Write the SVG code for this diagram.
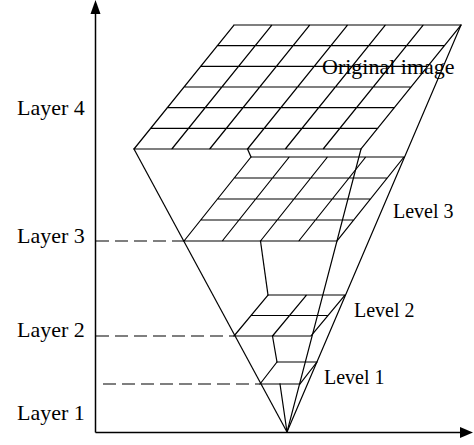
<svg xmlns="http://www.w3.org/2000/svg" width="474" height="445" viewBox="0 0 474 445">
<style>
  .ln { stroke: #000; stroke-width: 1.2; fill: none; stroke-linecap: square; }
  .dash { stroke: #000; stroke-width: 1.2; fill: none; stroke-dasharray: 13 6; }
  .ax { stroke: #000; stroke-width: 1.5; fill: none; }
  .lbl { font-family: "Liberation Serif", "Times New Roman", serif; font-size: 20px; fill: #000; }
  .big { font-size: 22px; }
</style>
<rect width="474" height="445" fill="#fff"/>

<g id="axes">
  <line class="ax" x1="95.5" y1="432.5" x2="95.5" y2="12"/>
  <polygon points="95.5,0 90.5,14 100.5,14" fill="#000"/>
  <line class="ax" x1="95.5" y1="432.5" x2="461" y2="432.5"/>
  <polygon points="473,432.5 460,427 460,438" fill="#000"/>
</g>

<g id="connectors">
  <line class="ln" x1="134" y1="149" x2="287" y2="432"/>
  <line class="ln" x1="461" y1="25" x2="287" y2="432"/>
  <line class="ln" x1="361" y1="149" x2="287" y2="432"/>
  <line class="ln" x1="247.5" y1="149" x2="251" y2="157"/>
  <line class="ln" x1="260.5" y1="241" x2="268" y2="295"/>
  <line class="ln" x1="272.5" y1="336" x2="277" y2="362"/>
  <line class="ln" x1="280" y1="384" x2="287" y2="432"/>
  <line class="dash" x1="96" y1="241" x2="184" y2="241"/>
  <line class="dash" x1="96" y1="336" x2="234" y2="336"/>
  <line class="dash" x1="103" y1="384" x2="260" y2="384"/>
</g>

<g id="original-image">
  <path class="ln" d="M234,25H461 M217.33,45.67H444.33 M200.67,66.33H427.67 M184,87H411 M167.33,107.67H394.33 M150.67,128.33H377.67 M134,149H361
    M234,25L134,149 M271.83,25L171.83,149 M309.67,25L209.67,149 M347.5,25L247.5,149 M385.33,25L285.33,149 M423.17,25L323.17,149 M461,25L361,149"/>
  <text class="lbl big" x="322" y="74">Original image</text>
</g>

<g id="level-3">
  <path class="ln" d="M251,157H404 M234.25,178H387.25 M217.5,199H370.5 M200.75,220H353.75 M184,241H337
    M251,157L184,241 M289.25,157L222.25,241 M327.5,157L260.5,241 M365.75,157L298.75,241 M404,157L337,241"/>
  <text class="lbl" x="393" y="218">Level 3</text>
</g>

<g id="level-2">
  <path class="ln" d="M268,295H345 M251,315.5H328 M234,336H311 M268,295L234,336 M306.5,295L272.5,336 M345,295L311,336"/>
  <text class="lbl" x="354" y="317">Level 2</text>
</g>

<g id="level-1">
  <path class="ln" d="M277,362H317 M260,384H300 M277,362L260,384 M317,362L300,384"/>
  <text class="lbl" x="324" y="384">Level 1</text>
</g>

<g id="layer-labels">
  <text class="lbl big" x="17" y="115">Layer 4</text>
  <text class="lbl big" x="17" y="243">Layer 3</text>
  <text class="lbl big" x="17" y="337">Layer 2</text>
  <text class="lbl big" x="17" y="420">Layer 1</text>
</g>
</svg>
